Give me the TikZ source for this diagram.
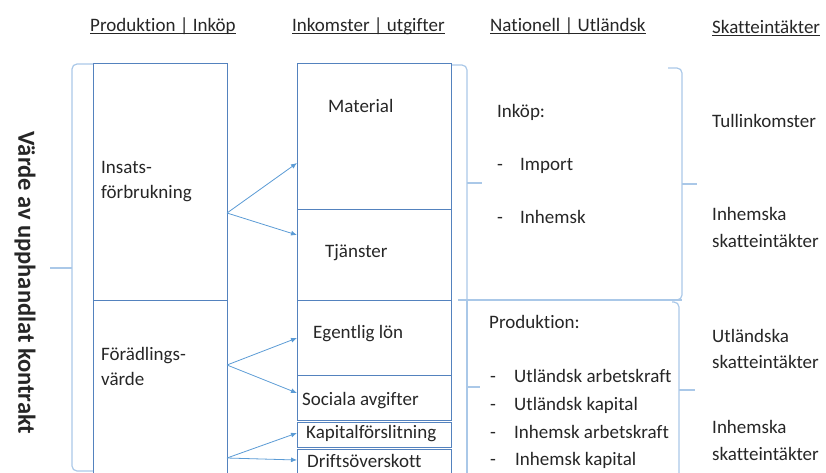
\documentclass[tikz,border=0pt]{standalone}
\usepackage{fontspec}
\setmainfont{Carlito}[RawFeature={-liga;-clig}]
\usetikzlibrary{arrows.meta}
\definecolor{boxblue}{RGB}{84,130,190}
\definecolor{arrblue}{RGB}{91,155,213}
\definecolor{brblue}{RGB}{170,200,232}
\definecolor{txt}{RGB}{38,38,38}
\tikzset{
  box/.style={draw=boxblue, line width=1.1pt, anchor=north west, inner sep=0pt},
  arr/.style={draw=arrblue, line width=0.8pt, -{Latex[length=6pt,width=5pt]}},
  brace/.style={draw=brblue, line width=1.2pt, rounded corners=5pt},
  lbl/.style={anchor=base west, inner sep=0pt, text=txt, font=\fontsize{19}{23}\selectfont},
  hdr/.style={lbl},
  uline/.style={draw=txt, line width=0.9pt},
}
\begin{document}
\begin{tikzpicture}[x=1pt,y=-1pt]
\useasboundingbox (0,0) rectangle (826,472);
% headers
\node[hdr] (h1) at (90,31) {Produktion | Inköp};
\node[hdr] (h2) at (292,31) {Inkomster | utgifter};
\node[hdr] (h3) at (490,31) {Nationell | Utländsk};
\node[hdr] (h4) at (712,33) {Skatteintäkter};
\draw[uline] ([yshift=-2.5pt]h1.base west) -- ([yshift=-2.5pt]h1.base east);
\draw[uline] ([yshift=-2.5pt]h2.base west) -- ([yshift=-2.5pt]h2.base east);
\draw[uline] ([yshift=-2.5pt]h3.base west) -- ([yshift=-2.5pt]h3.base east);
\draw[uline] ([yshift=-2.5pt]h4.base west) -- ([yshift=-2.5pt]h4.base east);
% left column boxes
\node[box, minimum width=134pt, minimum height=237pt] (ins) at (93,63) {};
\node[box, minimum width=134pt, minimum height=180pt] (fora) at (93,300) {};
% middle column boxes
\node[box, minimum width=154pt, minimum height=146pt] (mat) at (297,63) {};
\node[box, minimum width=154pt, minimum height=91pt] (tja) at (297,209) {};
\node[box, minimum width=154pt, minimum height=75pt] (lon) at (297,300) {};
\node[box, minimum width=154pt, minimum height=45pt] (soc) at (297,375) {};
\node[box, minimum width=154pt, minimum height=25pt] (kap) at (297,422) {};
\node[box, minimum width=154pt, minimum height=30pt] (dri) at (297,449) {};
% box texts
\node[lbl] (tins1) at (101,173) {Insats-};
\node[lbl] (tins2) at (101,198) {förbrukning};
\node[lbl] (tfor1) at (101,360) {Förädlings-};
\node[lbl] (tfor2) at (101,385) {värde};
\node[lbl] (tmat) at (328,112) {Material};
\node[lbl] (ttja) at (325,257) {Tjänster};
\node[lbl] (tlon) at (313,338) {Egentlig lön};
\node[lbl] (tsoc) at (302,405) {Sociala avgifter};
\node[lbl] (tkap) at (306,438) {Kapitalförslitning};
\node[lbl] (tdri) at (307,467) {Driftsöverskott};
% arrows
\coordinate (o1) at (227,213);
\coordinate (e1) at (297,163);
\coordinate (e2) at (297,235);
\coordinate (o2) at (227,365);
\coordinate (e3) at (297,338);
\coordinate (e4) at (297,393);
\coordinate (o3) at (227,458);
\coordinate (e5) at (297,433);
\coordinate (e6) at (297,460);
\draw[arr] (o1) -- (e1);
\draw[arr] (o1) -- (e2);
\draw[arr] (o2) -- (e3);
\draw[arr] (o2) -- (e4);
\draw[arr] (o3) -- (e5);
\draw[arr] (o3) -- (e6);
% big left brace
\draw[brace] (93,64) -- (72,64) -- (72,268) -- (72,471) -- (93,471);
\draw[brace] (72,268) -- (50,268);
% middle braces
\draw[brace] (452,65) -- (467,65) -- (467,300);
\draw[brace] (467,183) -- (482,183);
\draw[brace] (458,300) -- (682,300);
\draw[brace] (467,300) -- (467,476);
\draw[brace] (467,387) -- (480,387);
% right braces
\draw[brace] (668,68) -- (682,68) -- (682,300) -- (670,300);
\draw[brace] (682,184) -- (697,184);
\draw[brace] (672,302) -- (679,302) -- (679,476);
\draw[brace] (679,390) -- (695,390);
% vertical label
\node[text=txt, font=\fontsize{24.5}{28}\selectfont\bfseries, rotate=-90] (vert) at (25,283) {Värde av upphandlat kontrakt};
% column 3
\node[lbl] (tink) at (497,117) {Inköp:};
\node[lbl] (d1) at (497,170) {-};
\node[lbl] (timp) at (520,170) {Import};
\node[lbl] (d2) at (497,223) {-};
\node[lbl] (tinh) at (520,223) {Inhemsk};
\node[lbl] (tprod) at (489,328) {Produktion:};
\node[lbl] (d3) at (490,382) {-};
\node[lbl] (p1) at (514,382) {Utländsk arbetskraft};
\node[lbl] (d4) at (490,410) {-};
\node[lbl] (p2) at (514,410) {Utländsk kapital};
\node[lbl] (d5) at (490,438) {-};
\node[lbl] (p3) at (514,438) {Inhemsk arbetskraft};
\node[lbl] (d6) at (490,465) {-};
\node[lbl] (p4) at (515,465) {Inhemsk kapital};
% column 4
\node[lbl] (s1) at (712,127) {Tullinkomster};
\node[lbl] (s2a) at (712,220) {Inhemska};
\node[lbl] (s2b) at (712,247) {skatteintäkter};
\node[lbl] (s3a) at (712,342) {Utländska};
\node[lbl] (s3b) at (712,368) {skatteintäkter};
\node[lbl] (s4a) at (712,433) {Inhemska};
\node[lbl] (s4b) at (712,460) {skatteintäkter};
\end{tikzpicture}
\end{document}
